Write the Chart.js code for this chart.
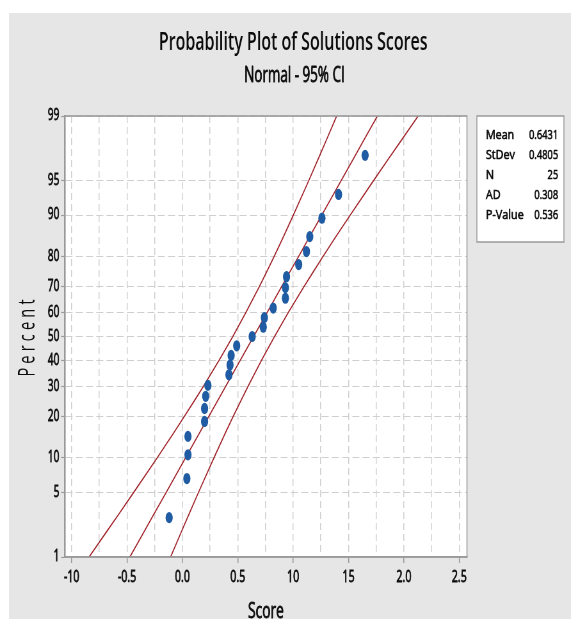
<!DOCTYPE html>
<html>
<head>
<meta charset="utf-8">
<script src="https://cdn.jsdelivr.net/npm/chart.js@4.4.0/dist/chart.umd.min.js"></script>
<style>
  html, body { margin: 0; padding: 0; background: #fff; overflow: hidden; }
  /* the reference is drawn narrow, so the canvas is laid out wide and squeezed */
  #wrap { width: 892px; height: 619px; transform: scaleX(0.6401); transform-origin: 0 0; }
</style>
</head>
<body>
<div id="wrap"><canvas id="probChart" width="892" height="619"></canvas></div>
<script>
const scores = [-0.12, 0.04, 0.05, 0.05, 0.20, 0.20, 0.21, 0.23, 0.42, 0.43, 0.44, 0.49, 0.63,
                0.73, 0.74, 0.82, 0.93, 0.93, 0.94, 1.05, 1.12, 1.15, 1.26, 1.41, 1.65];
const percents = [2.8, 6.7, 10.6, 14.6, 18.5, 22.4, 26.4, 30.3, 34.3, 38.2, 42.1, 46.1, 50.0,
                  53.9, 57.9, 61.8, 65.7, 69.7, 73.6, 77.6, 81.5, 85.4, 89.4, 93.3, 97.2];

// fitted line and 95% CI band, read at these percent levels
const ciPercents = [1, 2, 3, 5, 10, 15, 20, 25, 30, 40, 50, 60, 70, 75, 80, 85, 90, 95, 97, 98, 99];
const fitScores = [-0.475, -0.344, -0.261, -0.147, 0.027, 0.145, 0.239, 0.319, 0.391, 0.521, 0.643,
                   0.765, 0.895, 0.967, 1.048, 1.141, 1.259, 1.434, 1.547, 1.630, 1.761];
const lowerScores = [-0.843, -0.681, -0.578, -0.440, -0.229, -0.090, 0.018, 0.110, 0.190, 0.330, 0.455,
                     0.573, 0.694, 0.758, 0.827, 0.906, 1.002, 1.141, 1.229, 1.293, 1.393];
const upperScores = [-0.107, -0.007, 0.057, 0.145, 0.284, 0.380, 0.459, 0.529, 0.593, 0.713, 0.832,
                     0.956, 1.097, 1.177, 1.268, 1.376, 1.516, 1.726, 1.864, 1.967, 2.129];

const yTickPercents = [1, 5, 10, 20, 30, 40, 50, 60, 70, 80, 90, 95, 99];
const yTickLabels = ['1', '5', '10', '20', '30', '40', '50', '60', '70', '80', '90', '95', '99'];
const xGridValues = [-1.0, -0.75, -0.5, -0.25, 0, 0.25, 0.5, 0.75, 1.0, 1.25, 1.5, 1.75, 2.0, 2.25, 2.5];
const xTickValues = [-1.0, -0.5, 0, 0.5, 1.0, 1.5, 2.0, 2.5];
const xTickLabels = ['-10', '-0.5', '0.0', '0.5', '10', '15', '2.0', '2.5'];

const statNames = ['Mean', 'StDev', 'N', 'AD', 'P-Value'];
const statValues = ['0.6431', '0.4805', '25', '0.308', '0.536'];

const FONT = '"Open Sans", "Noto Sans", sans-serif';
const RED = '#a0232a';
const BLUE = '#1f5ca3';
const GRID = '#cfcfcf';
const AXIS = '#9a9a9a';
const TEXT = '#0c0c0c';

// inverse normal cdf (Acklam), used as the probability-paper transform
function probit(pct) {
  const p = pct / 100;
  const a = [-3.969683028665376e+01, 2.209460984245205e+02, -2.759285104469687e+02,
             1.383577518672690e+02, -3.066479806614716e+01, 2.506628277459239e+00];
  const b = [-5.447609879822406e+01, 1.615858368580409e+02, -1.556989798598866e+02,
             6.680131188771972e+01, -1.328068155288572e+01];
  const c = [-7.784894002430293e-03, -3.223964580411365e-01, -2.400758277161838e+00,
             -2.549732539343734e+00, 4.374664141464968e+00, 2.938163982698783e+00];
  const d = [7.784695709041462e-03, 3.224671290700398e-01, 2.445134137142996e+00,
             3.754408661907416e+00];
  const plow = 0.02425;
  let q, r;
  if (p < plow) {
    q = Math.sqrt(-2 * Math.log(p));
    return (((((c[0]*q+c[1])*q+c[2])*q+c[3])*q+c[4])*q+c[5]) / ((((d[0]*q+d[1])*q+d[2])*q+d[3])*q+1);
  }
  if (p > 1 - plow) {
    q = Math.sqrt(-2 * Math.log(1 - p));
    return -(((((c[0]*q+c[1])*q+c[2])*q+c[3])*q+c[4])*q+c[5]) / ((((d[0]*q+d[1])*q+d[2])*q+d[3])*q+1);
  }
  q = p - 0.5;
  r = q * q;
  return (((((a[0]*r+a[1])*r+a[2])*r+a[3])*r+a[4])*r+a[5])*q / (((((b[0]*r+b[1])*r+b[2])*r+b[3])*r+b[4])*r+1);
}

const isLabeled = v => xTickValues.some(t => Math.abs(t - v) < 1e-9);
const xLabel = v => {
  const i = xTickValues.findIndex(t => Math.abs(t - v) < 1e-9);
  return i < 0 ? '' : xTickLabels[i];
};
const toLine = arr => arr.map((s, i) => ({ x: s, y: probit(ciPercents[i]) }));

// text with a thin outline, a little heavier like the reference
function heavyText(ctx, str, x, y, sx, align, stroke) {
  ctx.save();
  ctx.translate(x, y);
  ctx.scale(sx, 1);
  ctx.textAlign = align;
  ctx.lineWidth = stroke;
  ctx.strokeStyle = TEXT;
  ctx.lineJoin = 'round';
  ctx.strokeText(str, 0, 0);
  ctx.fillText(str, 0, 0);
  ctx.restore();
}

const framePlugin = {
  id: 'frame',
  beforeDraw(chart) {
    const { ctx, chartArea: a } = chart;
    ctx.save();
    ctx.fillStyle = '#e6e6e6';
    ctx.fillRect(14, 13, chart.width - 14, chart.height - 13);
    ctx.fillStyle = '#fff';
    ctx.fillRect(a.left, a.top, a.right - a.left, a.bottom - a.top);
    ctx.restore();
  },
  afterDraw(chart) {
    const { ctx, chartArea: a } = chart;
    ctx.save();
    ctx.strokeStyle = AXIS;
    ctx.lineWidth = 1.6;
    ctx.strokeRect(a.left, a.top, a.right - a.left, a.bottom - a.top);

    ctx.fillStyle = TEXT;
    ctx.textBaseline = 'alphabetic';
    ctx.font = '600 25px ' + FONT;
    ctx.textAlign = 'center';
    ctx.fillText('Probability Plot of Solutions Scores', 458, 50);
    ctx.font = '21px ' + FONT;
    heavyText(ctx, 'Normal - 95% CI', 460, 82, 1, 'center', 0.8);
    ctx.font = '21.5px ' + FONT;
    heavyText(ctx, 'Score', (a.left + a.right) / 2, 618, 1, 'center', 0.8);

    // rotated, letter-spaced axis title
    ctx.save();
    ctx.translate(44, 338);
    ctx.rotate(-Math.PI / 2);
    ctx.scale(1, 2.5);
    ctx.font = '14.5px ' + FONT;
    ctx.textAlign = 'left';
    ctx.textBaseline = 'middle';
    const word = 'Percent';
    const gap = 4.2;
    let total = 0;
    for (const ch of word) total += ctx.measureText(ch).width;
    total += gap * (word.length - 1);
    let x = -total / 2;
    for (const ch of word) {
      ctx.fillText(ch, x, 0);
      x += ctx.measureText(ch).width + gap;
    }
    ctx.restore();

    // stats box
    ctx.fillStyle = '#fff';
    ctx.fillRect(745, 116, 136, 126);
    ctx.strokeStyle = AXIS;
    ctx.lineWidth = 1.5;
    ctx.strokeRect(745, 116, 136, 126);
    ctx.fillStyle = TEXT;
    ctx.font = '13px ' + FONT;
    statNames.forEach((name, i) => {
      const y = 139 + i * 20;
      heavyText(ctx, name, 759, y, 1.3, 'left', 0.6);
      heavyText(ctx, statValues[i], 872, y, 1.12, 'right', 0.6);
    });
    ctx.restore();
  }
};

new Chart(document.getElementById('probChart'), {
  type: 'scatter',
  data: {
    datasets: [
      {
        label: 'Score',
        data: scores.map((s, i) => ({ x: s, y: probit(percents[i]) })),
        backgroundColor: BLUE,
        borderColor: BLUE,
        borderWidth: 0,
        pointRadius: 5.6,
        pointHoverRadius: 5.6
      },
      { label: 'Fit', data: toLine(fitScores), showLine: true, borderColor: RED, borderWidth: 1.6, pointRadius: 0 },
      { label: 'Lower CI', data: toLine(lowerScores), showLine: true, borderColor: RED, borderWidth: 1.6, pointRadius: 0 },
      { label: 'Upper CI', data: toLine(upperScores), showLine: true, borderColor: RED, borderWidth: 1.6, pointRadius: 0 }
    ]
  },
  options: {
    responsive: false,
    animation: false,
    devicePixelRatio: 1,
    layout: { padding: { top: 116, right: 162.5, left: 0, bottom: 0 } },
    plugins: {
      legend: { display: false },
      tooltip: { enabled: false },
      title: { display: false }
    },
    scales: {
      x: {
        type: 'linear',
        min: -1.0605,
        max: 2.5695,
        afterBuildTicks: s => { s.ticks = xGridValues.map(v => ({ value: v })); },
        afterFit: s => { s.height = 62; },
        ticks: {
          autoSkip: false,
          maxRotation: 0,
          padding: 4,
          color: TEXT,
          textStrokeColor: TEXT,
          textStrokeWidth: 0.8,
          font: { family: FONT, size: 16.5 },
          callback: v => xLabel(v)
        },
        grid: {
          color: GRID,
          lineWidth: 1.5,
          tickLength: 6,
          tickWidth: 1.6,
          tickBorderDash: [],
          tickColor: ctx => (ctx.tick && isLabeled(ctx.tick.value)) ? AXIS : 'rgba(0,0,0,0)'
        },
        border: { display: true, color: AXIS, width: 1.6, dash: [7, 4] }
      },
      y: {
        type: 'linear',
        min: probit(1),
        max: probit(99),
        afterBuildTicks: s => { s.ticks = yTickPercents.map(p => ({ value: probit(p) })); },
        afterFit: s => { s.width = 101.5; },
        ticks: {
          autoSkip: false,
          padding: 3,
          color: TEXT,
          textStrokeColor: TEXT,
          textStrokeWidth: 0.8,
          font: { family: FONT, size: 15.5 },
          callback: (v, i) => yTickLabels[i]
        },
        grid: {
          color: GRID,
          lineWidth: 1,
          tickLength: 6,
          tickWidth: 1.2,
          tickBorderDash: [],
          tickColor: AXIS
        },
        border: { display: true, color: AXIS, width: 2.4, dash: [11, 5] }
      }
    }
  },
  plugins: [framePlugin]
});
</script>
</body>
</html>
